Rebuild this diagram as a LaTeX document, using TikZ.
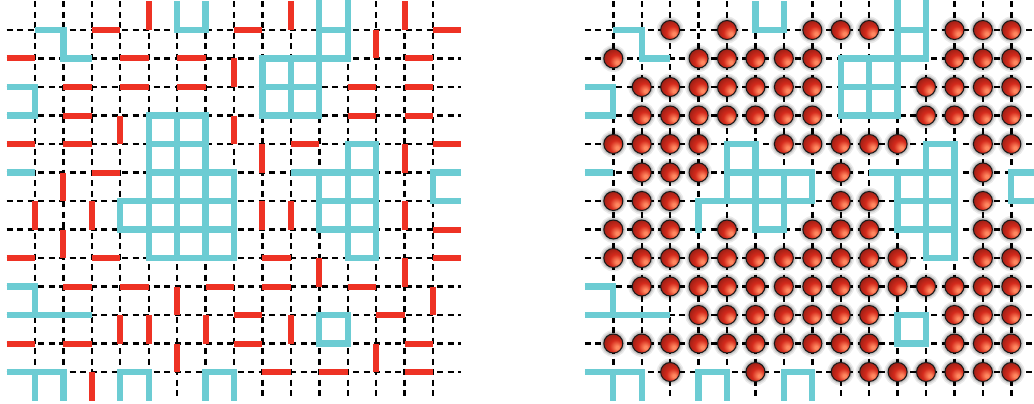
\documentclass[tikz,border=0pt]{standalone}
\definecolor{bondred}{RGB}{238,50,36}
\definecolor{loopcyan}{RGB}{108,204,211}
\definecolor{ballhl}{RGB}{255,135,95}
\definecolor{ballbody}{RGB}{212,42,28}
\pgfdeclareradialshading{redball}{\pgfqpoint{11bp}{-11bp}}{color(0bp)=(ballhl); color(4bp)=(ballhl); color(17bp)=(ballbody); color(32bp)=(ballbody!72!black); color(50bp)=(ballbody!40!black)}
\newcommand{\sharedloops}{%
  \draw[cyanloop] (0,0) -- (1,0) -- (1,1) -- (2,1);
  \draw[cyanloop] (5,-1) -- (5,0) -- (6,0) -- (6,-1);
  \draw[cyanloop] (-1,2) -- (0,2) -- (0,3) -- (-1,3);
  \draw[cyanloop] (-1,5) -- (0,5);
  \draw[cyanloop] (15,5) -- (14,5) -- (14,6) -- (15,6);
  \draw[cyanloop] (-1,9) -- (0,9) -- (0,10);
  \draw[cyanloop] (-1,10) -- (2,10);
  \draw[cyanloop] (10,10) -- (11,10) -- (11,11) -- (10,11) -- cycle;
  \draw[cyanloop] (-1,12) -- (1,12) -- (1,13);
  \draw[cyanloop] (0,12) -- (0,13);
  \draw[cyanloop] (3,13) -- (3,12) -- (4,12) -- (4,13);
  \draw[cyanloop] (6,13) -- (6,12) -- (7,12) -- (7,13);
  % top right block
  \draw[cyanblock] (10,0) -- (11,0) (8,1) -- (11,1) (8,2) -- (10,2) (8,3) -- (10,3)
    (8,1) -- (8,3) (9,1) -- (9,3) (10,-1) -- (10,3) (11,-1) -- (11,1);
  % right block
  \draw[cyanblock] (11,4) -- (12,4) (10,5) -- (12,5) (10,6) -- (12,6) (10,7) -- (12,7) (11,8) -- (12,8)
    (10,5) -- (10,7) (11,4) -- (11,8) (12,4) -- (12,8);
  \draw[cyanloop] (9,5) -- (10,5);
}
\newcommand{\latticegrid}{%
  \foreach \i in {0,...,14} \draw[gridline] (\i,-1) -- (\i,13);
  \foreach \j in {0,...,12} \draw[gridline] (-1,\j) -- (15,\j);
}
\begin{document}
\begin{tikzpicture}[x=1pt,y=1pt,
  gridline/.style={black, line width=2.4pt, dash pattern=on 6pt off 4.5pt},
  redbond/.style={bondred, line width=6pt},
  cyanloop/.style={loopcyan, line width=6.3pt, line join=miter},
  cyanblock/.style={loopcyan, line width=6.3pt, line join=miter, line cap=rect},
  ballnode/.style={circle, minimum size=19pt, inner sep=0pt, shading=redball, draw=black!90, line width=1pt},
]
\useasboundingbox (0,0) rectangle (1034,-404);
% ---------------- left panel ----------------
\begin{scope}[shift={(35pt,-30pt)}, x=28.43pt, y=-28.5pt]
  \latticegrid
  \foreach \i/\j in {2/0,7/0,14/0, -1/1,3/1,5/1,13/1, 1/2,3/2,5/2,11/2,13/2,
      1/3,11/3,13/3, -1/4,1/4,9/4,14/4, 2/5, 14/7, -1/8,2/8,8/8,14/8,
      1/9,3/9,6/9,8/9,11/9, 7/10,12/10, -1/11,1/11,7/11,13/11, 8/12,10/12,13/12}
    \draw[redbond] (\i,\j) -- ++(1,0);
  \foreach \i/\j in {4/-1,9/-1,13/-1, 12/0, 7/1, 3/3,7/3, 8/4,13/4, 1/5,
      0/6,2/6,8/6,9/6,13/6, 1/7, 10/8,13/8, 5/9,14/9, 3/10,4/10,6/10,9/10,
      5/11,12/11, 2/12}
    \draw[redbond] (\i,\j) -- ++(0,1);
  \sharedloops
  % big block
  \draw[cyanblock] (4,3) -- (6,3) (4,4) -- (6,4) (4,5) -- (7,5) (3,6) -- (7,6) (3,7) -- (7,7) (4,8) -- (7,8)
    (3,6) -- (3,7) (4,3) -- (4,8) (5,3) -- (5,8) (6,3) -- (6,8) (7,5) -- (7,8);
\end{scope}
% ---------------- right panel ----------------
\begin{scope}[shift={(613.3pt,-30pt)}, x=28.43pt, y=-28.5pt]
  \latticegrid
  \sharedloops
  \draw[cyanblock] (4,4) -- (5,4) (4,5) -- (7,5) (3,6) -- (7,6) (5,7) -- (6,7)
    (3,6) -- (3,7) (4,4) -- (4,6) (5,4) -- (5,7) (6,5) -- (6,7) (7,5) -- (7,6);
  \foreach \j/\row in {0/{2,4,7,8,9,12,13,14},
      1/{0,3,4,5,6,7,12,13,14},
      2/{1,2,3,4,5,6,7,11,12,13,14},
      3/{1,2,3,4,5,6,7,11,12,13,14},
      4/{0,1,2,3,6,7,8,9,10,13,14},
      5/{1,2,3,8,13},
      6/{0,1,2,8,9,13},
      7/{0,1,2,4,7,8,9,13,14},
      8/{0,1,2,3,4,5,6,7,8,9,10,13,14},
      9/{1,2,3,4,5,6,7,8,9,10,11,12,13,14},
      10/{3,4,5,6,7,8,9,12,13,14},
      11/{0,1,2,3,4,5,6,7,8,9,12,13,14},
      12/{2,5,8,9,10,11,12,13,14}}
  {
    \foreach \i in \row {
      \fill[black, opacity=0.08] (\i,\j) circle (13.5pt);
      \fill[black, opacity=0.11] (\i,\j) circle (12pt);
      \fill[black, opacity=0.15] (\i,\j) circle (10.8pt);
      \node[ballnode] (b\i-\j) at (\i,\j) {};
    }
  }
\end{scope}
\end{tikzpicture}
\end{document}
